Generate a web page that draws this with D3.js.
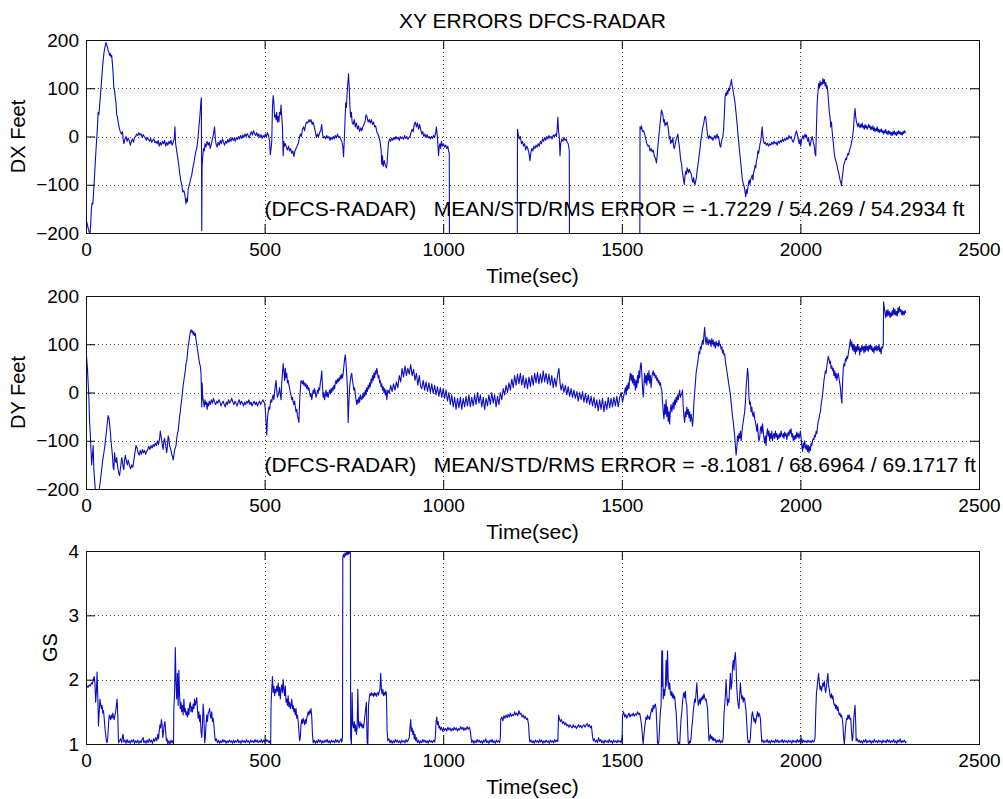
<!DOCTYPE html>
<html>
<head>
<meta charset="utf-8">
<script src="https://cdn.jsdelivr.net/npm/d3@7"></script>
<style>
  body { margin: 0; background: #fff; }
  svg { display: block; font-family: "Liberation Sans", Arial, sans-serif; }
  .tick text { font-size: 19px; fill: #000; }
  .tick line { stroke: #000; }
</style>
</head>
<body>
<svg id="chart" width="1003" height="799"></svg>
<script>
// --- Data ---
const chartTitle = "XY ERRORS DFCS-RADAR";
const xLabel = "Time(sec)";
const xTicks = [0, 500, 1000, 1500, 2000, 2500];
const feetTicks = [-200, -100, 0, 100, 200];
const gsTicks = [1, 2, 3, 4];
const dxNote = "(DFCS-RADAR)   MEAN/STD/RMS ERROR = -1.7229 / 54.269 / 54.2934 ft";
const dyNote = "(DFCS-RADAR)   MEAN/STD/RMS ERROR = -8.1081 / 68.6964 / 69.1717 ft";

// [time sec, DX feet]; -400 marks drop-outs that run off the bottom of the axes
const dxData = [
  [0,-172],[3,-180],[6,-190],[9,-198],[11,-202],[13,-185],[15,-150],[17,-138],[19,-140],[21,-120],[24,-80],[27,-40],[30,-5],[32,20],[34,50],[36,45],[38,62],[41,90],[44,120],[47,150],[50,172],[53,185],[56,195],[58,190],[60,185],[62,178],[64,175],[66,168],[68,172],[70,165],[72,168],[74,150],[76,130],[78,100],[80,95],[82,80],[84,70],[86,45],[88,40],[90,30],[93,18],[96,10],[99,5],[102,10],[104,-5],[106,-15],[109,-5],[112,0],[115,-10],[118,-3],[121,-8],[124,-18],[127,-10],[130,-5],[133,-12],[136,-2],[139,0],[142,5],[145,2],[148,8],[151,3],[154,6],[157,-2],[160,4],[163,0],[166,-3],[169,-8],[172,-2],[175,-6],[178,-10],[181,-4],[184,-12],[187,-8],[190,-5],[193,-13],[196,-10],[199,-15],[202,-8],[205,-20],[208,-12],[211,-18],[214,-10],[217,-15],[220,-8],[223,-20],[226,-12],[229,-18],[232,-10],[235,-15],[238,-8],[241,-18],[244,-12],[247,-5],[249,20],[251,-15],[253,-25],[256,-40],[259,-55],[262,-75],[265,-90],[268,-100],[271,-115],[274,-112],[277,-122],[280,-140],[282,-128],[284,-135],[286,-110],[289,-100],[291,-95],[293,-88],[296,-80],[299,-65],[302,-55],[305,-40],[308,-30],[311,-20],[314,0],[316,20],[318,35],[320,55],[322,75],[323,80],[324,-195],[325,-60],[327,-40],[329,-25],[331,-30],[333,-15],[336,-22],[339,-10],[342,-18],[345,-12],[348,-25],[351,-15],[354,-5],[357,5],[360,20],[362,-5],[364,-15],[367,-22],[370,-12],[373,-18],[376,-8],[379,-15],[382,-5],[385,-12],[388,-18],[391,-10],[394,-14],[397,-6],[400,-12],[403,-4],[406,-10],[409,-2],[412,-8],[415,-3],[418,-10],[421,-2],[424,-6],[427,0],[430,-5],[433,2],[436,-4],[439,3],[442,-2],[445,5],[448,0],[451,6],[454,2],[457,-3],[460,5],[463,10],[466,3],[469,12],[472,6],[475,2],[478,8],[481,0],[484,5],[487,-2],[490,4],[493,-4],[496,2],[499,-2],[502,5],[505,0],[508,8],[511,2],[514,-10],[516,-38],[518,-25],[520,-10],[522,60],[524,85],[526,70],[528,40],[530,45],[532,35],[534,50],[536,30],[538,42],[540,30],[542,50],[544,45],[546,65],[548,40],[550,20],[552,-40],[554,-10],[556,-20],[558,-15],[561,-22],[564,-28],[567,-20],[570,-30],[573,-25],[576,-35],[579,-30],[582,-42],[585,-30],[588,-25],[591,-20],[594,-15],[597,-5],[600,5],[603,0],[606,15],[609,20],[612,12],[615,25],[618,30],[621,28],[624,35],[627,30],[630,35],[633,25],[636,30],[639,20],[642,10],[645,-2],[648,5],[651,0],[654,8],[657,12],[660,25],[662,5],[665,-3],[668,0],[671,-5],[674,2],[677,-3],[680,0],[683,-8],[686,-2],[689,-6],[692,0],[695,-5],[698,2],[701,-3],[704,5],[707,-2],[710,0],[713,-5],[716,-10],[719,-20],[721,-42],[723,-10],[725,30],[727,70],[729,60],[731,90],[733,110],[735,130],[737,100],[739,60],[741,40],[743,50],[745,30],[748,25],[751,35],[754,20],[757,28],[760,15],[763,22],[766,10],[769,18],[772,12],[775,20],[778,25],[781,30],[784,45],[787,40],[790,30],[793,35],[796,28],[799,35],[802,25],[805,30],[808,20],[811,22],[814,10],[817,5],[820,0],[823,-10],[826,-25],[828,-58],[830,-40],[832,-62],[835,-50],[838,-60],[841,-65],[843,-55],[845,-30],[847,-12],[850,-5],[853,-10],[856,-3],[859,-8],[862,-2],[865,-6],[868,0],[871,-5],[874,-2],[877,-8],[880,0],[883,-4],[886,-1],[889,-6],[892,2],[895,-4],[898,0],[901,-6],[904,-2],[907,0],[910,8],[913,15],[916,10],[919,25],[922,30],[925,20],[928,28],[931,15],[934,25],[937,15],[940,5],[943,10],[946,0],[949,5],[952,-2],[955,4],[958,-3],[961,0],[964,-5],[967,0],[970,-4],[973,2],[976,-2],[979,8],[981,20],[983,5],[985,-15],[987,-40],[989,-20],[991,-15],[993,-25],[995,-10],[998,-20],[1001,-15],[1004,-22],[1007,-18],[1010,-25],[1013,-20],[1015,-30],[1017,-35],[1018,-400],
  [1207,-400],[1208,15],[1210,5],[1213,-5],[1216,0],[1219,-15],[1222,-10],[1225,-20],[1228,-15],[1231,-28],[1234,-20],[1237,-25],[1240,-35],[1243,-50],[1245,-35],[1248,-25],[1251,-30],[1254,-20],[1257,-25],[1260,-18],[1263,-22],[1266,-15],[1269,-20],[1272,-10],[1275,-15],[1278,-5],[1281,-10],[1284,-2],[1287,-8],[1290,0],[1293,-5],[1296,2],[1299,-3],[1302,0],[1305,-5],[1308,3],[1311,0],[1314,5],[1317,0],[1319,15],[1321,40],[1323,10],[1325,0],[1327,-40],[1329,-15],[1332,-5],[1335,-10],[1338,-2],[1341,-8],[1344,-5],[1347,-12],[1350,-15],[1352,-25],[1353,-28],[1354,-400],
  [1550,-400],[1551,20],[1553,15],[1555,22],[1558,10],[1561,12],[1564,5],[1567,-5],[1570,-15],[1573,-20],[1576,-18],[1579,-30],[1582,-25],[1585,-32],[1588,-28],[1591,-40],[1594,-45],[1597,-55],[1599,-40],[1601,-20],[1603,-5],[1605,10],[1607,25],[1609,40],[1611,55],[1613,50],[1615,45],[1617,30],[1619,35],[1621,22],[1623,28],[1625,25],[1627,30],[1629,22],[1631,10],[1633,-5],[1635,0],[1637,-15],[1639,-8],[1641,-12],[1643,-2],[1645,-20],[1647,-25],[1649,-18],[1651,-10],[1653,-5],[1655,0],[1657,5],[1659,-10],[1661,-20],[1663,-35],[1665,-50],[1667,-55],[1669,-70],[1671,-80],[1673,-90],[1675,-100],[1677,-80],[1679,-72],[1681,-78],[1683,-65],[1685,-70],[1687,-75],[1689,-68],[1691,-72],[1693,-75],[1695,-80],[1697,-90],[1699,-95],[1701,-85],[1703,-95],[1705,-100],[1707,-92],[1709,-85],[1711,-70],[1713,-60],[1715,-50],[1717,-35],[1719,-25],[1721,-10],[1723,0],[1725,10],[1727,20],[1729,25],[1731,35],[1733,42],[1735,40],[1737,25],[1739,10],[1741,0],[1743,-5],[1745,2],[1747,-3],[1749,0],[1751,-5],[1753,-2],[1755,-8],[1757,-4],[1759,0],[1761,2],[1763,-5],[1765,0],[1767,5],[1769,-3],[1771,0],[1773,-10],[1775,-20],[1777,-22],[1779,-10],[1781,-5],[1783,0],[1785,15],[1787,45],[1789,80],[1791,90],[1793,85],[1795,95],[1797,88],[1799,100],[1801,95],[1803,105],[1805,110],[1807,118],[1809,105],[1811,98],[1813,88],[1815,80],[1817,70],[1819,55],[1821,40],[1823,25],[1825,5],[1827,-10],[1829,-25],[1831,-40],[1833,-55],[1835,-70],[1837,-85],[1839,-95],[1841,-100],[1843,-105],[1845,-115],[1847,-125],[1849,-110],[1851,-118],[1853,-105],[1855,-95],[1857,-90],[1859,-100],[1861,-88],[1863,-85],[1865,-80],[1867,-90],[1869,-75],[1871,-70],[1873,-60],[1875,-65],[1877,-50],[1879,-45],[1881,-30],[1883,-35],[1885,-25],[1887,-15],[1889,-10],[1891,5],[1893,20],[1895,0],[1897,-10],[1899,-15],[1902,-12],[1905,-18],[1908,-14],[1911,-20],[1914,-15],[1917,-18],[1920,-12],[1923,-16],[1926,-10],[1929,-15],[1932,-12],[1935,-18],[1938,-10],[1941,-14],[1944,-8],[1947,-12],[1950,-5],[1953,-10],[1956,-4],[1959,-8],[1962,-2],[1965,-6],[1968,2],[1971,-4],[1974,0],[1977,-8],[1980,-12],[1983,-5],[1986,5],[1989,12],[1992,2],[1995,-10],[1997,-15],[1999,-5],[2001,-20],[2003,-8],[2005,-3],[2007,2],[2009,-5],[2011,0],[2013,5],[2015,-2],[2017,3],[2019,-5],[2021,-10],[2023,-2],[2025,-15],[2027,-20],[2029,-12],[2031,-5],[2033,0],[2035,-8],[2037,-15],[2039,-20],[2041,-35],[2043,-40],[2045,20],[2047,70],[2049,90],[2051,110],[2053,100],[2055,115],[2057,105],[2059,112],[2061,108],[2063,120],[2065,110],[2067,118],[2069,105],[2071,112],[2073,100],[2075,105],[2077,90],[2079,70],[2081,50],[2083,40],[2085,20],[2087,30],[2089,10],[2091,-5],[2093,-20],[2095,-35],[2097,-45],[2099,-50],[2101,-55],[2103,-62],[2105,-70],[2107,-75],[2109,-82],[2111,-90],[2113,-95],[2115,-102],[2117,-85],[2119,-75],[2121,-60],[2123,-55],[2125,-50],[2127,-45],[2129,-48],[2131,-40],[2133,-35],[2135,-38],[2137,-30],[2139,-25],[2141,-20],[2143,-12],[2145,-5],[2147,5],[2149,20],[2151,45],[2153,58],[2155,40],[2157,30],[2159,25],[2161,20],[2163,28],[2165,22],[2167,18],[2169,25],[2171,20],[2173,28],[2175,18],[2177,22],[2179,15],[2181,25],[2183,18],[2185,22],[2187,15],[2189,20],[2191,25],[2193,18],[2195,22],[2197,14],[2199,20],[2201,15],[2203,22],[2205,12],[2207,18],[2209,10],[2211,16],[2213,12],[2215,20],[2217,10],[2219,15],[2221,8],[2223,14],[2225,10],[2227,16],[2229,8],[2231,12],[2233,5],[2235,12],[2237,8],[2239,15],[2241,6],[2243,10],[2245,4],[2247,12],[2249,6],[2251,10],[2253,3],[2255,8],[2257,2],[2259,10],[2261,5],[2263,12],[2265,4],[2267,8],[2269,2],[2271,10],[2273,5],[2275,12],[2277,6],[2279,10],[2281,4],[2283,8],[2285,3],[2287,10],[2289,6],[2291,12],[2293,8],[2295,10]
];

// [time sec, DY feet]
const dyData = [
  [0,92],[2,70],[4,50],[6,20],[8,-10],[10,-60],[12,-85],[14,-120],[16,-150],[18,-130],[20,-110],[22,-160],[24,-180],[26,-200],[28,-210],[31,-215],[34,-205],[37,-200],[40,-185],[43,-165],[46,-145],[49,-130],[52,-115],[55,-95],[58,-75],[60,-60],[62,-48],[64,-52],[66,-65],[68,-80],[70,-100],[72,-115],[74,-130],[76,-155],[78,-160],[80,-125],[82,-140],[84,-145],[86,-135],[88,-150],[90,-160],[92,-168],[94,-172],[96,-160],[98,-148],[100,-135],[102,-142],[104,-155],[106,-160],[108,-140],[110,-130],[112,-138],[114,-145],[116,-150],[118,-140],[120,-145],[122,-152],[125,-158],[128,-150],[131,-155],[134,-140],[137,-125],[140,-110],[143,-115],[146,-125],[149,-130],[152,-120],[155,-128],[158,-118],[161,-125],[164,-120],[167,-128],[170,-122],[173,-118],[176,-112],[179,-118],[182,-110],[185,-115],[188,-108],[191,-112],[194,-105],[197,-110],[200,-100],[203,-108],[206,-95],[208,-80],[210,-90],[212,-100],[214,-110],[216,-118],[218,-100],[220,-95],[222,-105],[224,-115],[226,-125],[228,-110],[230,-90],[232,-95],[234,-110],[236,-115],[238,-120],[240,-128],[242,-132],[244,-140],[246,-130],[248,-120],[250,-115],[252,-110],[254,-95],[256,-85],[258,-80],[260,-65],[262,-50],[264,-40],[266,-25],[268,-15],[270,0],[272,15],[274,25],[276,35],[278,45],[280,60],[282,65],[284,80],[286,95],[288,105],[290,115],[292,125],[294,130],[296,125],[298,128],[300,120],[302,126],[304,118],[306,122],[308,110],[310,100],[312,90],[314,80],[316,70],[318,60],[320,55],[322,40],[323,5],[324,-30],[325,20],[327,-10],[329,-20],[331,-30],[333,-15],[335,-25],[337,-20],[339,-35],[341,-22],[343,-28],[345,-18],[348,-25],[351,-15],[354,-22],[357,-12],[360,-20],[363,-25],[366,-18],[369,-22],[372,-15],[375,-20],[378,-28],[381,-22],[384,-18],[387,-25],[390,-30],[393,-20],[396,-25],[399,-15],[402,-22],[405,-18],[408,-12],[411,-20],[414,-25],[417,-18],[420,-22],[423,-28],[426,-20],[429,-15],[432,-25],[435,-18],[438,-22],[441,-28],[444,-20],[447,-25],[450,-18],[453,-22],[456,-15],[459,-25],[462,-20],[465,-28],[468,-22],[471,-18],[474,-25],[477,-20],[480,-28],[483,-22],[486,-18],[489,-25],[492,-20],[495,-15],[498,-20],[500,-22],[502,-35],[504,-60],[506,-88],[508,-55],[510,-40],[512,-30],[514,-35],[516,-22],[518,-15],[520,-20],[522,-10],[524,-5],[526,-15],[528,0],[530,15],[532,25],[534,5],[536,-10],[538,-5],[540,0],[542,10],[544,-5],[546,-15],[548,20],[550,40],[552,60],[554,45],[556,25],[558,50],[560,30],[562,40],[564,20],[566,25],[568,15],[570,10],[572,0],[574,-5],[576,-15],[578,-10],[580,-20],[582,-25],[584,-18],[586,-30],[588,-40],[590,-35],[592,-48],[594,-55],[596,-62],[598,-20],[600,5],[602,25],[604,22],[606,18],[608,25],[610,15],[612,20],[614,12],[616,18],[618,8],[620,15],[622,5],[624,10],[626,0],[628,-8],[630,-2],[632,-15],[634,-5],[636,5],[638,-2],[640,8],[642,0],[644,-10],[646,-5],[648,5],[650,0],[652,10],[654,5],[656,20],[658,30],[660,45],[662,15],[664,-10],[666,0],[668,-15],[670,-5],[672,5],[674,-8],[676,0],[678,-10],[680,-2],[682,5],[684,-3],[686,8],[688,0],[690,10],[692,5],[694,15],[696,8],[698,20],[700,25],[702,18],[704,28],[706,22],[708,30],[710,25],[712,35],[714,28],[716,38],[718,30],[720,40],[722,55],[724,70],[726,78],[728,60],[730,35],[732,10],[734,-62],[736,-20],[738,10],[740,25],[742,35],[744,40],[746,25],[748,15],[750,5],[752,10],[754,-5],[756,-15],[758,-25],[760,-15],[762,-22],[764,-10],[766,-20],[768,-5],[770,-12],[772,-15],[774,-5],[776,-12],[778,0],[780,-8],[782,5],[784,-5],[786,10],[788,2],[790,15],[792,8],[794,20],[796,12],[798,28],[800,20],[802,35],[804,25],[806,40],[808,30],[810,45],[812,38],[814,50],[816,42],[818,30],[820,35],[822,20],[824,25],[826,12],[828,18],[830,5],[832,12],[834,0],[836,8],[838,-5],[840,5],[842,-15],[845,5],[849,-2],[853,15],[857,2],[861,18],[865,5],[869,22],[873,10],[877,35],[881,22],[885,50],[889,32],[893,55],[897,35],[901,50],[905,38],[909,58],[913,35],[917,48],[921,25],[925,40],[929,15],[933,35],[937,12],[940,8],[944,25],[948,5],[952,22],[956,2],[960,20],[964,0],[968,18],[972,-2],[976,15],[980,-5],[984,12],[988,-8],[992,10],[996,-10],[1000,8],[1004,-12],[1008,5],[1012,-18],[1016,0],[1020,-25],[1024,-5],[1028,-30],[1032,-10],[1036,-35],[1040,-12],[1044,-32],[1048,-10],[1052,-35],[1056,-12],[1060,-30],[1064,-8],[1068,-28],[1072,-5],[1076,-30],[1080,-10],[1084,-28],[1088,-5],[1092,-25],[1096,0],[1100,-22],[1104,-5],[1108,-30],[1112,-10],[1116,-35],[1120,-12],[1124,-28],[1128,-5],[1132,-25],[1136,0],[1140,-22],[1144,-5],[1148,-30],[1152,-8],[1156,-25],[1160,0],[1164,-15],[1168,8],[1172,-5],[1176,15],[1180,0],[1184,20],[1188,5],[1192,28],[1196,10],[1200,35],[1204,15],[1208,38],[1212,18],[1216,40],[1220,15],[1224,35],[1228,10],[1232,30],[1236,8],[1240,32],[1244,12],[1248,35],[1252,15],[1256,40],[1260,20],[1264,42],[1268,18],[1272,38],[1276,20],[1280,45],[1284,22],[1288,40],[1292,18],[1296,38],[1300,15],[1304,35],[1308,10],[1312,30],[1316,12],[1320,35],[1324,50],[1327,20],[1330,5],[1334,18],[1338,0],[1342,15],[1346,-5],[1350,12],[1354,-8],[1358,8],[1362,-10],[1366,5],[1370,-12],[1374,2],[1378,-18],[1382,0],[1386,-15],[1390,2],[1394,-20],[1398,-2],[1402,-22],[1406,-5],[1410,-25],[1414,-8],[1418,-28],[1422,-10],[1426,-32],[1430,-15],[1434,-38],[1438,-15],[1442,-35],[1446,-12],[1450,-40],[1454,-18],[1458,-35],[1462,-10],[1466,-32],[1470,-12],[1474,-30],[1478,-10],[1482,-28],[1486,-8],[1490,-30],[1494,-10],[1498,0],[1502,-20],[1506,-5],[1510,10],[1512,-5],[1514,15],[1516,5],[1518,20],[1520,8],[1522,30],[1524,40],[1526,25],[1528,38],[1530,20],[1532,35],[1534,15],[1536,28],[1538,5],[1540,25],[1542,10],[1544,35],[1546,20],[1548,45],[1550,30],[1552,55],[1554,62],[1556,40],[1558,10],[1560,-10],[1562,15],[1564,40],[1566,20],[1568,35],[1570,15],[1572,40],[1574,25],[1576,45],[1578,20],[1580,35],[1582,10],[1584,30],[1586,40],[1588,45],[1590,35],[1592,40],[1594,30],[1596,35],[1598,25],[1600,30],[1602,20],[1604,25],[1606,15],[1608,20],[1610,10],[1612,5],[1614,-20],[1616,-40],[1618,-55],[1620,-25],[1622,-45],[1624,-15],[1626,-50],[1628,-30],[1630,-60],[1632,-40],[1634,-65],[1636,-35],[1638,-25],[1640,-40],[1642,-30],[1644,-20],[1646,-35],[1648,-15],[1650,-25],[1652,-10],[1654,-20],[1656,-5],[1658,-15],[1660,-5],[1662,5],[1664,-10],[1666,-5],[1668,-2],[1670,5],[1672,-30],[1674,-50],[1676,-62],[1678,-40],[1680,-50],[1682,-30],[1684,-45],[1686,-35],[1688,-52],[1690,-40],[1692,-60],[1694,-45],[1696,-55],[1698,-70],[1700,-50],[1702,-20],[1704,0],[1706,20],[1708,40],[1710,50],[1712,60],[1714,70],[1716,85],[1718,80],[1720,95],[1722,90],[1724,100],[1726,108],[1728,100],[1730,120],[1732,135],[1734,110],[1736,100],[1738,115],[1740,105],[1742,98],[1744,110],[1746,102],[1748,108],[1750,95],[1752,112],[1754,100],[1756,108],[1758,96],[1760,104],[1762,92],[1764,106],[1766,98],[1768,102],[1770,95],[1772,108],[1774,98],[1776,100],[1778,90],[1780,95],[1782,82],[1784,88],[1786,78],[1788,80],[1790,65],[1792,55],[1794,45],[1796,35],[1798,25],[1800,15],[1802,5],[1804,-5],[1806,-20],[1808,-35],[1810,-50],[1812,-60],[1814,-75],[1816,-90],[1818,-110],[1820,-130],[1822,-115],[1824,-90],[1826,-100],[1828,-85],[1830,-95],[1832,-80],[1834,-100],[1836,-85],[1838,-70],[1840,-60],[1842,-50],[1844,-40],[1846,-20],[1848,10],[1850,30],[1852,50],[1854,35],[1856,-10],[1858,-25],[1860,-20],[1862,-40],[1864,-30],[1866,-45],[1868,-50],[1870,-40],[1872,-55],[1874,-60],[1876,-70],[1878,-80],[1880,-65],[1882,-90],[1884,-100],[1886,-95],[1888,-75],[1890,-70],[1892,-85],[1894,-65],[1896,-80],[1898,-95],[1900,-105],[1902,-90],[1904,-110],[1906,-85],[1908,-75],[1910,-90],[1912,-80],[1914,-100],[1916,-85],[1918,-95],[1920,-80],[1922,-100],[1924,-90],[1926,-85],[1928,-95],[1930,-80],[1932,-92],[1934,-85],[1936,-98],[1938,-88],[1940,-95],[1942,-85],[1944,-92],[1946,-80],[1948,-88],[1950,-92],[1952,-85],[1954,-95],[1956,-82],[1958,-90],[1960,-85],[1962,-98],[1964,-88],[1966,-82],[1968,-90],[1970,-78],[1972,-85],[1974,-75],[1976,-92],[1978,-85],[1980,-100],[1982,-90],[1984,-98],[1986,-88],[1988,-95],[1990,-82],[1992,-92],[1994,-85],[1996,-95],[1998,-88],[2000,-80],[2002,-95],[2004,-110],[2006,-122],[2008,-105],[2010,-115],[2012,-100],[2014,-112],[2016,-118],[2018,-108],[2020,-122],[2022,-110],[2024,-125],[2026,-112],[2028,-120],[2030,-105],[2032,-110],[2034,-100],[2036,-95],[2038,-98],[2040,-88],[2042,-92],[2044,-80],[2046,-85],[2048,-70],[2050,-60],[2052,-55],[2054,-45],[2056,-40],[2058,-25],[2060,-15],[2062,-5],[2064,10],[2066,25],[2068,35],[2070,45],[2072,40],[2074,55],[2076,65],[2078,75],[2080,70],[2082,60],[2084,65],[2086,50],[2088,55],[2090,45],[2092,50],[2094,35],[2096,45],[2098,30],[2100,40],[2102,25],[2104,35],[2106,40],[2108,30],[2110,20],[2112,10],[2114,-10],[2116,-22],[2118,20],[2120,50],[2122,60],[2124,55],[2126,70],[2128,65],[2130,75],[2132,70],[2134,80],[2136,90],[2138,100],[2140,110],[2142,95],[2144,105],[2146,88],[2148,100],[2150,85],[2152,98],[2154,80],[2156,95],[2158,85],[2160,100],[2162,88],[2164,95],[2166,78],[2168,92],[2170,85],[2172,98],[2174,88],[2176,95],[2178,82],[2180,96],[2182,85],[2184,100],[2186,88],[2188,95],[2190,85],[2192,98],[2194,90],[2196,100],[2198,88],[2200,96],[2202,85],[2204,92],[2206,82],[2208,95],[2210,88],[2212,98],[2214,86],[2216,95],[2218,88],[2220,100],[2222,85],[2224,92],[2226,80],[2228,95],[2230,92],[2232,100],[2233,188],[2235,175],[2237,165],[2239,155],[2241,170],[2243,158],[2245,172],[2247,160],[2249,168],[2251,155],[2253,165],[2255,158],[2257,170],[2259,160],[2261,175],[2263,162],[2265,172],[2267,160],[2269,168],[2271,158],[2273,175],[2275,165],[2277,178],[2279,168],[2281,172],[2283,162],[2285,170],[2287,160],[2289,168],[2291,162],[2293,170],[2295,165]
];

// [time sec, GS]
const gsData = [
  [0,1.85],[3,1.9],[6,1.88],[9,1.92],[12,1.9],[15,1.95],[18,1.93],[21,2.02],[23,2.05],[25,1.95],[27,1.65],[29,1.8],[31,2.12],[33,1.75],[35,1.28],[37,1.5],[39,1.7],[41,1.62],[43,1.55],[45,1.6],[47,1.48],[49,1.52],[51,1.4],[53,1.25],[55,1.15],[57,1.05],[59,1.02],[61,1.1],[63,1.3],[65,1.45],[67,1.42],[69,1.38],[71,1.45],[73,1.4],[75,1.48],[77,1.42],[79,1.38],[81,1.45],[83,1.5],[85,1.6],[87,1.7],[89,1.45],[91,1.02],[94,1.05],[97,1.08],[100,1.02],[102,1.12],[104,1.15],[106,1.03],[109,1.06],[112,1.01],[115,1.07],[118,1.02],[121,1.05],[124,1.01],[127,1.06],[130,1.03],[133,1.07],[136,1.01],[139,1.05],[142,1.02],[145,1.06],[148,1.01],[151,1.05],[154,1.02],[157,1.07],[160,1.1],[162,1.02],[165,1.05],[168,1.01],[171,1.06],[174,1.02],[177,1.08],[180,1.03],[183,1.06],[186,1.01],[189,1.08],[192,1.04],[195,1.1],[198,1.05],[201,1.15],[203,1.08],[205,1.2],[207,1.3],[209,1.25],[211,1.38],[213,1.3],[215,1.1],[217,1.2],[219,1.3],[221,1.35],[223,1.2],[225,1.05],[227,1.08],[229,1.0],[232,1.05],[235,1.0],[238,1.06],[241,1.02],[243,1.05],[245,1.0],[246,1.55],[248,1.8],[250,2.5],[252,1.95],[254,1.7],[256,2.1],[258,1.6],[260,2.15],[262,1.75],[264,1.55],[266,1.65],[268,1.5],[270,1.6],[272,1.45],[274,1.7],[276,1.5],[278,1.55],[280,1.45],[282,1.5],[284,1.42],[286,1.55],[288,1.45],[290,1.6],[292,1.65],[294,1.5],[296,1.58],[298,1.5],[300,1.62],[302,1.55],[304,1.7],[306,1.6],[308,1.65],[310,1.72],[312,1.55],[314,1.4],[316,1.5],[318,1.35],[320,1.45],[322,1.2],[324,1.1],[326,1.3],[328,1.62],[330,1.45],[332,1.02],[334,1.1],[336,1.3],[338,1.45],[340,1.35],[342,1.48],[344,1.5],[346,1.55],[348,1.45],[350,1.4],[352,1.5],[354,1.35],[356,1.4],[358,1.3],[360,1.15],[362,1.05],[365,1.08],[368,1.02],[371,1.06],[374,1.01],[377,1.05],[380,1.02],[383,1.07],[386,1.03],[389,1.06],[392,1.01],[395,1.05],[398,1.02],[401,1.06],[404,1.03],[407,1.05],[410,1.01],[413,1.06],[416,1.02],[419,1.05],[422,1.03],[425,1.07],[428,1.02],[431,1.05],[434,1.01],[437,1.06],[440,1.03],[443,1.05],[446,1.02],[449,1.07],[452,1.03],[455,1.05],[458,1.01],[461,1.06],[464,1.03],[467,1.05],[470,1.02],[473,1.07],[476,1.03],[479,1.06],[482,1.02],[485,1.05],[488,1.03],[491,1.07],[494,1.02],[497,1.06],[500,1.03],[503,1.08],[506,1.04],[509,1.06],[512,1.02],[515,1.05],[517,1.0],[518,1.6],[520,1.85],[522,2.05],[524,1.8],[526,1.9],[528,1.75],[530,1.85],[532,1.8],[534,1.9],[536,1.82],[538,1.95],[540,1.75],[542,1.88],[544,1.7],[546,1.85],[548,1.92],[550,1.8],[552,2.0],[554,1.85],[556,1.75],[558,1.9],[560,1.65],[562,1.7],[564,1.6],[566,1.75],[568,1.58],[570,1.65],[572,1.55],[574,1.6],[576,1.7],[578,1.55],[580,1.6],[582,1.5],[584,1.55],[586,1.45],[588,1.55],[590,1.4],[592,1.45],[594,1.35],[596,1.2],[598,1.05],[600,1.1],[602,1.3],[604,1.38],[606,1.32],[608,1.4],[610,1.35],[612,1.3],[614,1.38],[616,1.32],[618,1.4],[620,1.45],[622,1.5],[624,1.45],[626,1.52],[628,1.48],[630,1.55],[632,1.42],[634,1.15],[636,1.02],[639,1.06],[642,1.01],[645,1.05],[648,1.02],[651,1.07],[654,1.03],[657,1.06],[660,1.01],[663,1.05],[666,1.02],[669,1.06],[672,1.03],[675,1.07],[678,1.02],[681,1.05],[684,1.01],[687,1.06],[690,1.03],[693,1.05],[696,1.02],[699,1.07],[702,1.03],[705,1.06],[708,1.02],[711,1.05],[714,1.08],[716,1.03],[718,1.1],[719,3.9],[721,3.95],[723,3.9],[725,3.97],[727,3.93],[729,3.98],[731,3.94],[733,3.99],[735,3.95],[737,4.0],[739,3.96],[740,3.99],[741,1.1],[743,1.0],[745,1.8],[747,1.3],[749,1.25],[751,1.35],[753,1.2],[755,1.3],[757,1.15],[759,1.25],[761,1.85],[763,1.3],[765,1.25],[767,1.35],[769,1.28],[771,1.32],[773,1.25],[775,1.3],[777,1.25],[779,1.35],[781,1.45],[783,1.55],[785,1.65],[787,1.02],[789,1.0],[791,1.6],[793,1.72],[795,1.78],[797,1.75],[799,1.8],[801,1.76],[803,1.78],[805,1.74],[807,1.8],[809,1.76],[811,1.79],[813,1.74],[815,1.78],[817,1.8],[819,1.76],[821,1.82],[823,1.85],[825,2.1],[827,1.85],[829,1.78],[831,1.85],[833,1.75],[835,1.8],[837,1.76],[839,1.82],[841,1.78],[843,1.2],[845,1.05],[848,1.08],[851,1.02],[854,1.06],[857,1.01],[860,1.05],[863,1.02],[866,1.07],[869,1.03],[872,1.06],[875,1.02],[878,1.05],[881,1.01],[884,1.06],[887,1.03],[890,1.05],[893,1.02],[896,1.07],[899,1.03],[902,1.06],[905,1.1],[907,1.25],[909,1.38],[911,1.2],[913,1.25],[915,1.15],[917,1.2],[919,1.08],[921,1.15],[923,1.05],[925,1.1],[928,1.02],[931,1.06],[934,1.01],[937,1.05],[940,1.02],[943,1.07],[946,1.03],[949,1.06],[952,1.02],[955,1.05],[958,1.01],[961,1.06],[964,1.03],[967,1.05],[970,1.02],[973,1.06],[976,1.03],[978,1.1],[980,1.35],[982,1.42],[984,1.3],[986,1.35],[988,1.25],[990,1.28],[992,1.22],[995,1.26],[998,1.2],[1001,1.25],[1004,1.21],[1007,1.24],[1010,1.2],[1013,1.26],[1016,1.22],[1019,1.25],[1022,1.2],[1025,1.24],[1028,1.21],[1031,1.26],[1034,1.22],[1037,1.25],[1040,1.2],[1043,1.24],[1046,1.22],[1049,1.27],[1052,1.23],[1055,1.26],[1058,1.21],[1061,1.25],[1064,1.22],[1067,1.27],[1070,1.23],[1073,1.26],[1076,1.2],[1078,1.1],[1080,1.02],[1083,1.06],[1086,1.01],[1089,1.05],[1092,1.02],[1095,1.07],[1098,1.03],[1101,1.06],[1104,1.02],[1107,1.05],[1110,1.01],[1113,1.06],[1116,1.03],[1119,1.08],[1122,1.02],[1125,1.05],[1128,1.01],[1131,1.06],[1134,1.03],[1137,1.07],[1140,1.02],[1143,1.05],[1146,1.01],[1149,1.06],[1152,1.03],[1155,1.05],[1158,1.02],[1160,1.1],[1161,1.38],[1164,1.42],[1167,1.36],[1170,1.44],[1173,1.4],[1176,1.45],[1179,1.41],[1182,1.46],[1185,1.42],[1188,1.48],[1191,1.43],[1194,1.46],[1197,1.44],[1200,1.5],[1203,1.45],[1206,1.48],[1209,1.44],[1212,1.52],[1215,1.46],[1218,1.48],[1221,1.42],[1224,1.45],[1227,1.4],[1230,1.43],[1233,1.38],[1236,1.4],[1239,1.3],[1241,1.1],[1243,1.03],[1246,1.06],[1249,1.02],[1252,1.05],[1255,1.01],[1258,1.06],[1261,1.03],[1264,1.05],[1267,1.02],[1270,1.07],[1273,1.03],[1276,1.06],[1279,1.01],[1282,1.05],[1285,1.02],[1288,1.06],[1291,1.03],[1294,1.05],[1297,1.01],[1300,1.06],[1303,1.03],[1306,1.05],[1309,1.02],[1312,1.07],[1315,1.03],[1318,1.06],[1321,1.04],[1323,1.45],[1325,1.4],[1328,1.35],[1331,1.38],[1334,1.32],[1337,1.35],[1340,1.3],[1343,1.33],[1346,1.28],[1349,1.3],[1352,1.26],[1355,1.3],[1358,1.27],[1361,1.25],[1364,1.3],[1367,1.26],[1370,1.28],[1373,1.24],[1376,1.27],[1379,1.3],[1382,1.26],[1385,1.29],[1388,1.25],[1391,1.28],[1394,1.3],[1397,1.26],[1400,1.29],[1403,1.32],[1406,1.27],[1409,1.3],[1412,1.25],[1415,1.28],[1418,1.12],[1420,1.05],[1423,1.08],[1426,1.03],[1429,1.06],[1432,1.02],[1435,1.1],[1438,1.04],[1441,1.07],[1444,1.02],[1447,1.05],[1450,1.01],[1453,1.06],[1456,1.03],[1459,1.05],[1462,1.02],[1465,1.07],[1468,1.03],[1471,1.05],[1474,1.01],[1477,1.06],[1480,1.03],[1483,1.05],[1486,1.02],[1489,1.06],[1492,1.03],[1495,1.05],[1498,1.02],[1501,1.1],[1502,1.45],[1505,1.5],[1508,1.42],[1511,1.46],[1514,1.4],[1517,1.44],[1520,1.48],[1523,1.42],[1526,1.46],[1529,1.44],[1532,1.48],[1535,1.43],[1538,1.47],[1541,1.45],[1544,1.5],[1547,1.46],[1550,1.48],[1552,1.42],[1554,1.35],[1556,1.25],[1558,1.1],[1560,1.0],[1562,1.15],[1564,1.25],[1566,1.35],[1568,1.42],[1570,1.38],[1572,1.45],[1574,1.4],[1576,1.42],[1578,1.38],[1580,1.45],[1582,1.5],[1584,1.55],[1586,1.5],[1588,1.6],[1590,1.55],[1592,1.6],[1594,1.62],[1596,1.55],[1598,1.3],[1600,1.02],[1602,1.0],[1604,1.05],[1606,1.3],[1608,1.5],[1610,1.6],[1612,2.45],[1613,1.9],[1614,2.45],[1616,1.7],[1618,1.85],[1620,1.75],[1622,1.9],[1624,2.3],[1626,1.9],[1628,2.45],[1630,2.0],[1632,1.85],[1634,1.95],[1636,1.8],[1638,1.75],[1640,1.82],[1642,1.72],[1644,1.78],[1646,1.7],[1648,1.75],[1650,1.6],[1652,1.5],[1654,1.3],[1656,1.05],[1658,1.0],[1660,1.03],[1662,1.0],[1664,1.2],[1666,1.4],[1668,1.5],[1670,1.65],[1672,1.75],[1674,1.8],[1676,1.72],[1678,1.82],[1680,1.65],[1682,1.6],[1684,1.3],[1686,1.02],[1688,1.0],[1690,1.05],[1692,1.02],[1694,1.1],[1696,1.25],[1698,1.35],[1700,1.5],[1702,1.6],[1704,1.7],[1706,1.65],[1708,1.8],[1710,1.95],[1712,1.75],[1714,1.6],[1716,1.65],[1718,1.7],[1720,1.62],[1722,1.72],[1724,1.68],[1726,1.75],[1728,1.7],[1730,1.78],[1732,1.72],[1734,1.68],[1736,1.7],[1738,1.62],[1740,1.55],[1742,1.3],[1744,1.05],[1746,1.1],[1748,1.15],[1750,1.08],[1752,1.12],[1754,1.06],[1756,1.1],[1758,1.05],[1761,1.08],[1764,1.02],[1767,1.06],[1770,1.03],[1773,1.07],[1776,1.02],[1779,1.05],[1782,1.03],[1784,1.1],[1786,1.45],[1788,1.6],[1790,1.75],[1792,2.0],[1794,1.75],[1796,1.6],[1798,1.7],[1800,1.65],[1802,1.9],[1804,2.1],[1806,1.85],[1808,1.95],[1810,2.2],[1812,2.3],[1814,2.15],[1816,2.35],[1818,2.42],[1820,2.2],[1822,1.85],[1824,1.7],[1826,1.6],[1828,1.55],[1830,1.75],[1832,1.95],[1834,1.8],[1836,1.7],[1838,1.75],[1840,1.65],[1842,1.72],[1844,1.7],[1846,1.6],[1848,1.5],[1850,1.3],[1852,1.1],[1854,1.02],[1856,1.05],[1858,1.02],[1860,1.1],[1862,1.3],[1864,1.45],[1866,1.5],[1868,1.42],[1870,1.35],[1872,1.4],[1874,1.32],[1876,1.38],[1878,1.45],[1880,1.5],[1882,1.42],[1884,1.48],[1886,1.45],[1888,1.4],[1890,1.2],[1892,1.03],[1895,1.06],[1898,1.02],[1901,1.05],[1904,1.03],[1907,1.07],[1910,1.02],[1913,1.05],[1916,1.01],[1919,1.06],[1922,1.03],[1925,1.05],[1928,1.02],[1931,1.07],[1934,1.03],[1937,1.06],[1940,1.02],[1943,1.05],[1946,1.03],[1949,1.07],[1952,1.02],[1955,1.06],[1958,1.03],[1961,1.05],[1964,1.02],[1967,1.06],[1970,1.03],[1973,1.05],[1976,1.01],[1979,1.06],[1982,1.03],[1985,1.05],[1988,1.02],[1991,1.07],[1994,1.03],[1997,1.06],[2000,1.02],[2002,1.05],[2004,1.08],[2006,1.02],[2009,1.06],[2012,1.03],[2015,1.05],[2018,1.02],[2021,1.06],[2024,1.03],[2027,1.05],[2030,1.02],[2033,1.06],[2036,1.03],[2039,1.05],[2041,1.1],[2043,1.5],[2045,1.8],[2047,1.9],[2049,2.0],[2051,2.1],[2053,1.95],[2055,1.85],[2057,1.9],[2059,1.82],[2061,1.88],[2063,1.95],[2065,1.9],[2067,1.98],[2069,1.85],[2071,1.8],[2073,1.9],[2075,2.0],[2077,2.1],[2079,1.9],[2081,1.85],[2083,1.75],[2085,1.72],[2087,1.78],[2089,1.7],[2091,1.75],[2093,1.65],[2095,1.6],[2097,1.62],[2099,1.55],[2101,1.6],[2103,1.52],[2105,1.58],[2107,1.5],[2109,1.45],[2111,1.48],[2113,1.42],[2115,1.45],[2117,1.4],[2119,1.3],[2121,1.1],[2123,1.0],[2125,1.15],[2127,1.3],[2129,1.4],[2131,1.38],[2133,1.45],[2135,1.4],[2137,1.45],[2139,1.38],[2141,1.4],[2143,1.2],[2145,1.05],[2147,1.1],[2149,1.35],[2151,1.5],[2153,1.6],[2155,1.3],[2156,1.05],[2159,1.08],[2162,1.03],[2165,1.06],[2168,1.02],[2171,1.05],[2174,1.01],[2177,1.06],[2180,1.03],[2183,1.07],[2186,1.02],[2189,1.05],[2192,1.03],[2195,1.06],[2198,1.01],[2201,1.05],[2204,1.02],[2207,1.07],[2210,1.03],[2213,1.05],[2216,1.02],[2219,1.06],[2222,1.03],[2225,1.05],[2228,1.01],[2231,1.06],[2234,1.03],[2237,1.05],[2240,1.02],[2243,1.07],[2246,1.03],[2249,1.06],[2252,1.02],[2255,1.05],[2258,1.03],[2261,1.07],[2264,1.02],[2267,1.05],[2270,1.01],[2273,1.06],[2276,1.03],[2279,1.08],[2282,1.02],[2285,1.05],[2288,1.03],[2291,1.06],[2294,1.02],[2296,1.04]
];

// --- Layout ---
const svg = d3.select("#chart");
const left = 86, plotW = 893, plotH = 193;
const tickLen = 9;
const lineColor = "#0c0cc4";

const panels = [
  { data: dxData, top: 40,  domain: [-200, 200], ticks: feetTicks, ylabel: "DX Feet", labelX: 25, note: dxNote, noteY: -150 },
  { data: dyData, top: 296, domain: [-200, 200], ticks: feetTicks, ylabel: "DY Feet", labelX: 25, note: dyNote, noteY: -150 },
  { data: gsData, top: 551, domain: [1, 4],      ticks: gsTicks,   ylabel: "GS",      labelX: 57, note: null }
];

const x = d3.scaleLinear().domain([0, 2500]).range([0, plotW]);

svg.append("text")
  .attr("x", left + plotW / 2)
  .attr("y", 28)
  .attr("text-anchor", "middle")
  .attr("font-size", "21px")
  .text(chartTitle);

panels.forEach((p, i) => {
  const y = d3.scaleLinear().domain(p.domain).range([plotH, 0]);
  const g = svg.append("g").attr("transform", `translate(${left},${p.top})`);

  // dotted grid
  const grid = g.append("g").attr("stroke", "#444").attr("stroke-dasharray", "1,3").attr("stroke-width", 1);
  xTicks.forEach(t => {
    grid.append("line")
      .attr("x1", Math.round(x(t)) + 0.5).attr("x2", Math.round(x(t)) + 0.5)
      .attr("y1", 0).attr("y2", plotH);
  });
  p.ticks.forEach(t => {
    grid.append("line")
      .attr("x1", 0).attr("x2", plotW)
      .attr("y1", Math.round(y(t)) + 0.5).attr("y2", Math.round(y(t)) + 0.5);
  });

  // data line, clipped to the axes box
  const clipId = `clip${i}`;
  g.append("clipPath").attr("id", clipId)
    .append("rect").attr("width", plotW).attr("height", plotH);

  const line = d3.line().x(d => x(d[0])).y(d => y(d[1]));
  g.append("path")
    .datum(p.data)
    .attr("clip-path", `url(#${clipId})`)
    .attr("fill", "none")
    .attr("stroke", lineColor)
    .attr("stroke-width", 1.1)
    .attr("stroke-linejoin", "round")
    .attr("d", line);

  // axes: ticks point inward on all four sides
  const bottom = g.append("g").attr("transform", `translate(0,${plotH})`)
    .call(d3.axisBottom(x).tickValues(xTicks).tickSize(-tickLen).tickPadding(10).tickFormat(d3.format("d")));
  const top = g.append("g")
    .call(d3.axisTop(x).tickValues(xTicks).tickSize(-tickLen).tickFormat(""));
  const leftAx = g.append("g")
    .call(d3.axisLeft(y).tickValues(p.ticks).tickSize(-tickLen).tickPadding(7).tickFormat(d3.format("d")));
  const rightAx = g.append("g").attr("transform", `translate(${plotW},0)`)
    .call(d3.axisRight(y).tickValues(p.ticks).tickSize(-tickLen).tickFormat(""));
  [bottom, top, leftAx, rightAx].forEach(a => a.select(".domain").remove());

  g.append("rect")
    .attr("x", 0.5).attr("y", 0.5)
    .attr("width", plotW).attr("height", plotH)
    .attr("fill", "none").attr("stroke", "#111");

  // labels
  svg.append("text")
    .attr("x", left + plotW / 2)
    .attr("y", p.top + plotH + 50)
    .attr("text-anchor", "middle")
    .attr("font-size", "21px")
    .text(xLabel);

  svg.append("text")
    .attr("transform", `translate(${p.labelX},${p.top + plotH / 2}) rotate(-90)`)
    .attr("text-anchor", "middle")
    .attr("font-size", "20px")
    .text(p.ylabel);

  if (p.note) {
    g.append("text")
      .attr("x", x(500))
      .attr("y", y(p.noteY))
      .attr("dy", "0.35em")
      .attr("font-size", "21px")
      .style("white-space", "pre")
      .text(p.note);
  }
});
</script>
</body>
</html>
